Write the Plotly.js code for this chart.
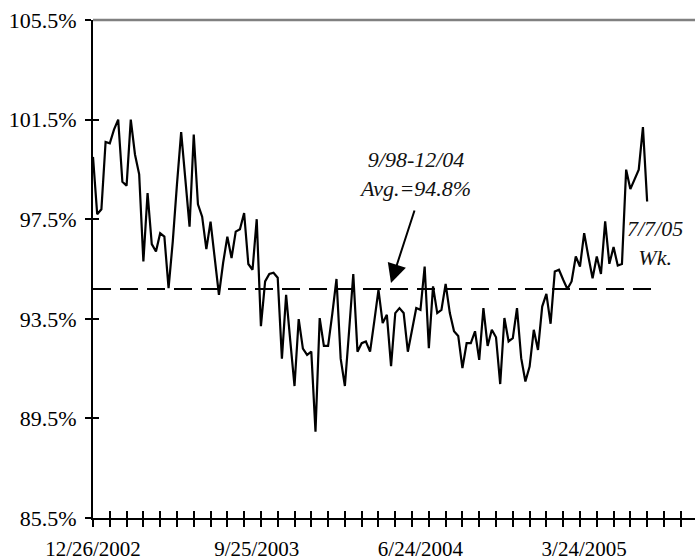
<!DOCTYPE html>
<html><head><meta charset="utf-8">
<script src="https://cdn.plot.ly/plotly-3.0.1.min.js"></script>
<style>html,body{margin:0;padding:0;background:#fff;overflow:hidden}</style>
</head><body><div id="chart" style="width:695px;height:560px"></div>
<script>
// ---- data ----
const firstWeek = '2002-12-26';
const utilization = [
 100.0, 97.7, 97.9, 100.6, 100.55, 101.1, 101.5, 99.0, 98.85, 101.5,
 100.1, 99.3, 95.8, 98.55, 96.5, 96.2, 96.94, 96.8, 94.73, 96.6,
 98.9, 101.0, 99.1, 97.2, 100.9, 98.1, 97.6, 96.3, 97.4, 95.9,
 94.46, 95.75, 96.8, 95.94, 97.0, 97.1, 97.75, 95.7, 95.47, 97.5,
 93.2, 95.0, 95.3, 95.35, 95.15, 91.9, 94.46, 92.6, 90.8, 93.49,
 92.3, 92.05, 92.18, 88.97, 93.53, 92.41, 92.41, 93.7, 95.1, 91.9,
 90.8, 93.0, 95.3, 92.18, 92.52, 92.59, 92.18, 93.4, 94.66, 93.33,
 93.66, 91.6, 93.73, 93.93, 93.73, 92.18, 93.1, 93.93, 93.86, 95.6,
 92.32, 94.8, 93.73, 93.86, 94.9, 93.73, 93.0, 92.81, 91.52, 92.52,
 92.52, 93.0, 91.85, 93.93, 92.41, 93.06, 92.76, 90.88, 93.53, 92.59,
 92.72, 93.93, 91.92, 90.98, 91.58, 93.06, 92.25, 93.99, 94.5, 93.3,
 95.4, 95.47, 95.07, 94.7, 95.0, 96.0, 95.6, 96.94, 96.0, 95.13,
 96.0, 95.3, 97.41, 95.71, 96.38, 95.64, 95.7, 99.49, 98.71, 99.1,
 99.49, 101.2, 98.21
];
const avgLineValue = 94.7;
const avgLineDates = ['2002-12-26', '2005-07-28'];
const tickDates = ['2002-12-26', '2003-09-25', '2004-06-24', '2005-03-24'];
const tickLabels = ['12/26/2002', '9/25/2003', '6/24/2004', '3/24/2005'];
const yTicks = [85.5, 89.5, 93.5, 97.5, 101.5, 105.5];
const avgNote = ['9/98-12/04', 'Avg.=94.8%'];
const lastWeekNote = ['7/7/05', 'Wk.'];

// ---- weekly timeline ----
const DAY = 86400000;
const startMs = Date.parse(firstWeek + 'T00:00:00Z');
const weeks = utilization.map((_, i) => new Date(startMs + i * 7 * DAY).toISOString().slice(0, 10));
const fmt = ms => new Date(ms).toISOString().slice(0, 19).replace('T', ' ');
const xRange = [fmt(startMs), fmt(startMs + 143.4 * 7 * DAY)];

const FONT = 'Liberation Serif, Times New Roman, serif';

const traces = [
  {x: avgLineDates, y: avgLineDates.map(() => avgLineValue), type: 'scatter', mode: 'lines',
   line: {color: '#000', width: 2, dash: '18px,9px'}, hoverinfo: 'skip', showlegend: false},
  {x: weeks, y: utilization, type: 'scatter', mode: 'lines',
   line: {color: '#000', width: 2.2}, showlegend: false},
  {x: [], y: [], xaxis: 'x2', yaxis: 'y2', type: 'scatter', showlegend: false, hoverinfo: 'skip'},
  {x: [], y: [], xaxis: 'x3', yaxis: 'y', type: 'scatter', showlegend: false, hoverinfo: 'skip'}
];

const baseX = {type: 'date', range: xRange, showgrid: false, zeroline: false, fixedrange: true};
const layout = {
  width: 695, height: 560,
  margin: {l: 93, r: 0, t: 20, b: 42},
  paper_bgcolor: '#fff', plot_bgcolor: '#fff',
  font: {family: FONT, color: '#000', size: 22},
  showlegend: false,
  xaxis: Object.assign({}, baseX, {
    tickmode: 'linear', tick0: firstWeek, dtick: 28 * DAY,
    ticks: 'outside', ticklen: 7, tickwidth: 2, tickcolor: '#000',
    showticklabels: false, showline: true, linecolor: '#000', linewidth: 2
  }),
  xaxis2: Object.assign({}, baseX, {
    overlaying: 'x', anchor: 'y',
    tickmode: 'linear', tick0: firstWeek, dtick: 28 * DAY,
    ticks: 'inside', ticklen: 7, tickwidth: 2, tickcolor: '#000',
    showticklabels: false, showline: false
  }),
  xaxis3: Object.assign({}, baseX, {
    overlaying: 'x', anchor: 'y',
    tickmode: 'array', tickvals: tickDates, ticktext: tickLabels,
    ticks: '', showline: false, ticklabelstandoff: 16,
    tickfont: {family: FONT, size: 21, color: '#000'}
  }),
  yaxis: {
    range: [85.5, 105.5], tickmode: 'array', tickvals: yTicks,
    ticktext: yTicks.map(v => v.toFixed(1) + '%'),
    ticks: 'outside', ticklen: 6, tickwidth: 2, tickcolor: '#000',
    showline: true, linecolor: '#000', linewidth: 2,
    showgrid: false, zeroline: false, ticklabelstandoff: 4,
    tickfont: {family: FONT, size: 22, color: '#000'}, fixedrange: true
  },
  yaxis2: {
    range: [85.5, 105.5], overlaying: 'y', anchor: 'x', side: 'left',
    tickmode: 'array', tickvals: yTicks,
    ticks: 'inside', ticklen: 6, tickwidth: 2, tickcolor: '#000',
    showticklabels: false, showline: false, showgrid: false, zeroline: false, fixedrange: true
  },
  shapes: [
    {type: 'line', xref: 'paper', yref: 'paper', x0: 0, x1: 1, y0: 1, y1: 1,
     line: {color: '#808080', width: 2.5}}
  ],
  annotations: [
    {xref: 'paper', yref: 'paper', x: 0.535, y: 0.69, xanchor: 'center', yanchor: 'middle',
     showarrow: false, text: avgNote.join('<br>'), align: 'center',
     font: {family: FONT, size: 22, style: 'italic', color: '#111'}},
    {xref: 'paper', yref: 'paper', x: 0.495, y: 0.472, ax: 24, ay: -74,
     text: '', showarrow: true, arrowhead: 2, arrowsize: 1.9, arrowwidth: 2,
     arrowcolor: '#000', standoff: 0},
    {xref: 'paper', yref: 'paper', x: 0.933, y: 0.553, xanchor: 'center', yanchor: 'middle',
     showarrow: false, text: lastWeekNote.join('<br>'), align: 'center',
     font: {family: FONT, size: 22, style: 'italic', color: '#111'}}
  ]
};

Plotly.newPlot('chart', traces, layout, {displayModeBar: false, staticPlot: true});
</script>
</body></html>
